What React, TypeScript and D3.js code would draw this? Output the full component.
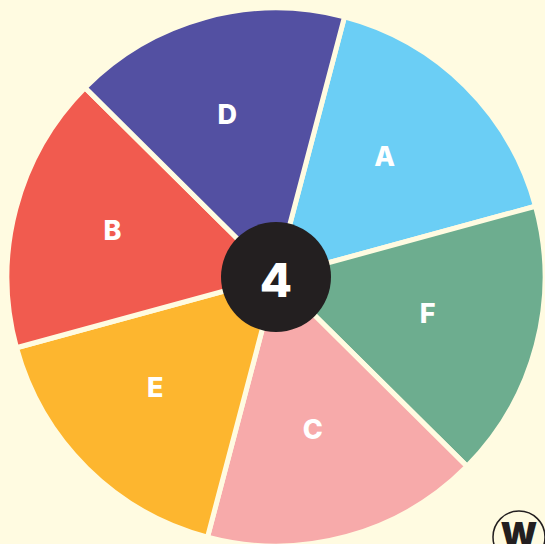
import { useEffect, useRef } from 'react';
import * as d3 from 'd3';

const labels = ['A', 'F', 'C', 'E', 'B', 'D'];
const values = [1, 1, 1, 1, 1, 1];
const sliceColors = ['#6BCEF5', '#6DAD8F', '#F7AAAA', '#FDB62F', '#F15B4F', '#5350A2'];
const centerText = '4';

export default function App() {
  const ref = useRef<SVGSVGElement>(null);

  useEffect(() => {
    const svg = d3.select(ref.current);
    svg.selectAll('*').remove();
    const width = 545;
    const height = 544;
    const cx = 276;
    const cy = 277;
    const radius = 269;
    const bg = '#FFFBE1';

    svg.append('rect').attr('width', width).attr('height', height).attr('fill', bg);

    const data = labels.map((l, i) => ({ label: l, value: values[i], color: sliceColors[i] }));
    const start = (14.75 * Math.PI) / 180;
    const pie = d3
      .pie<any>()
      .sort(null)
      .value(d => d.value)
      .startAngle(start)
      .endAngle(start + 2 * Math.PI);
    const arc = d3.arc<any>().innerRadius(0).outerRadius(radius);
    const labelArc = d3.arc<any>().innerRadius(163).outerRadius(163);

    const g = svg.append('g').attr('transform', `translate(${cx},${cy})`);
    const arcs = pie(data);
    g.selectAll('path.slice')
      .data(arcs)
      .enter()
      .append('path')
      .attr('class', 'slice')
      .attr('d', arc)
      .attr('fill', d => d.data.color)
      .attr('stroke', bg)
      .attr('stroke-width', 5)
      .attr('stroke-linejoin', 'round');

    // labels sit slightly up-left of the pie centre
    const lg = svg.append('g').attr('transform', `translate(${cx - 6},${cy - 5})`);
    lg.selectAll('text.lbl')
      .data(arcs)
      .enter()
      .append('text')
      .attr('class', 'lbl')
      .attr('transform', d => `translate(${labelArc.centroid(d)})`)
      .attr('text-anchor', 'middle')
      .attr('dy', '0.36em')
      .style('font-family', 'Inter, sans-serif')
      .style('font-weight', 800)
      .style('font-size', '27px')
      .attr('fill', '#FFFFFF')
      .text(d => d.data.label);

    g.append('circle').attr('r', 55).attr('fill', '#231F20');
    g.append('text')
      .attr('text-anchor', 'middle')
      .attr('dy', '0.36em')
      .attr('y', 3)
      .style('font-family', 'Inter, sans-serif')
      .style('font-weight', 800)
      .style('font-size', '47px')
      .attr('fill', '#FFFFFF')
      .text(centerText);

    // corner logo
    const logo = svg.append('g').attr('transform', 'translate(519,537)');
    logo.append('circle').attr('r', 26).attr('fill', 'none').attr('stroke', '#231F20').attr('stroke-width', 1.5);
    logo
      .append('text')
      .attr('text-anchor', 'middle')
      .attr('y', 10)
      .style('font-family', 'Inter, sans-serif')
      .style('font-weight', 900)
      .style('font-size', '34px')
      .attr('fill', '#231F20')
      .text('W');
  }, []);

  return (
    <svg
      ref={ref}
      width={545}
      height={544}
      style={{ position: 'absolute', left: 0, top: 0, display: 'block' }}
    />
  );
}
